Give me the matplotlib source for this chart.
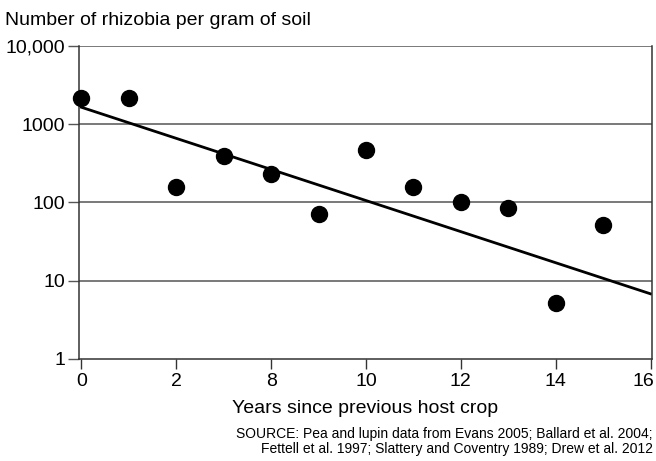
import numpy as np
import matplotlib
matplotlib.use("Agg")
import matplotlib.pyplot as plt
from matplotlib.ticker import FixedLocator, NullLocator

plt.rcParams['font.family'] = ['Liberation Sans Narrow', 'Liberation Sans', 'DejaVu Sans']

# data
pos = np.arange(12)
rhizobia = [2150, 2150, 159, 393, 229, 71, 469, 159, 101, 85, 5.2, 51]
fit_pos = [0, 12]
fit_vals = [1650, 6.8]
tick_pos = [0, 2, 4, 6, 8, 10, 12]
tick_labels = ["0", "2", "8", "10", "12", "14", "16"]
y_ticks = [1, 10, 100, 1000, 10000]
y_labels = ["1", "10", "100", "1000", "10,000"]

fig = plt.figure(figsize=(6.56, 4.61), dpi=100)
ax = fig.add_axes([0.1204, 0.2213, 0.8735, 0.6789])

ax.set_yscale('log')
ax.set_ylim(1, 10000)
ax.set_xlim(-0.05, 12.03)

for v in y_ticks[1:]:
    ax.axhline(v, color='#555555', lw=1.1, zorder=1)

ax.plot(fit_pos, fit_vals, color='black', lw=2, zorder=2)
ax.plot(pos, rhizobia, 'o', color='black', ms=11.5, zorder=3, clip_on=False)

ax.yaxis.set_major_locator(FixedLocator(y_ticks))
ax.yaxis.set_minor_locator(NullLocator())
ax.set_yticklabels(y_labels)
ax.set_xticks(tick_pos)
# last label drawn separately so it stays inside the figure
ax.set_xticklabels(tick_labels[:-1] + [""])
ax.annotate(tick_labels[-1], xy=(tick_pos[-1], 0), xycoords=('data', 'axes fraction'),
            xytext=(3, -10), textcoords='offset points', ha='right', va='top', fontsize=14)
ax.tick_params(axis='y', length=8, width=1, color='#555555', labelsize=14, pad=2)
ax.tick_params(axis='x', length=7, width=1, color='#333333', labelsize=14, pad=3)

for s in ['left', 'right', 'bottom']:
    ax.spines[s].set_color('#333333')
    ax.spines[s].set_linewidth(1.1)
ax.spines['top'].set_visible(False)

ax.set_xlabel("Years since previous host crop", fontsize=14, labelpad=7)
fig.text(0.008, 0.955, "Number of rhizobia per gram of soil", fontsize=14,
         ha='left', va='center')
fig.text(0.995, 0.042, "SOURCE: Pea and lupin data from Evans 2005; Ballard et al. 2004;\n"
         "Fettell et al. 1997; Slattery and Coventry 1989; Drew et al. 2012",
         fontsize=10, ha='right', va='center', linespacing=1.05)

fig.savefig("out.png", dpi=100)
